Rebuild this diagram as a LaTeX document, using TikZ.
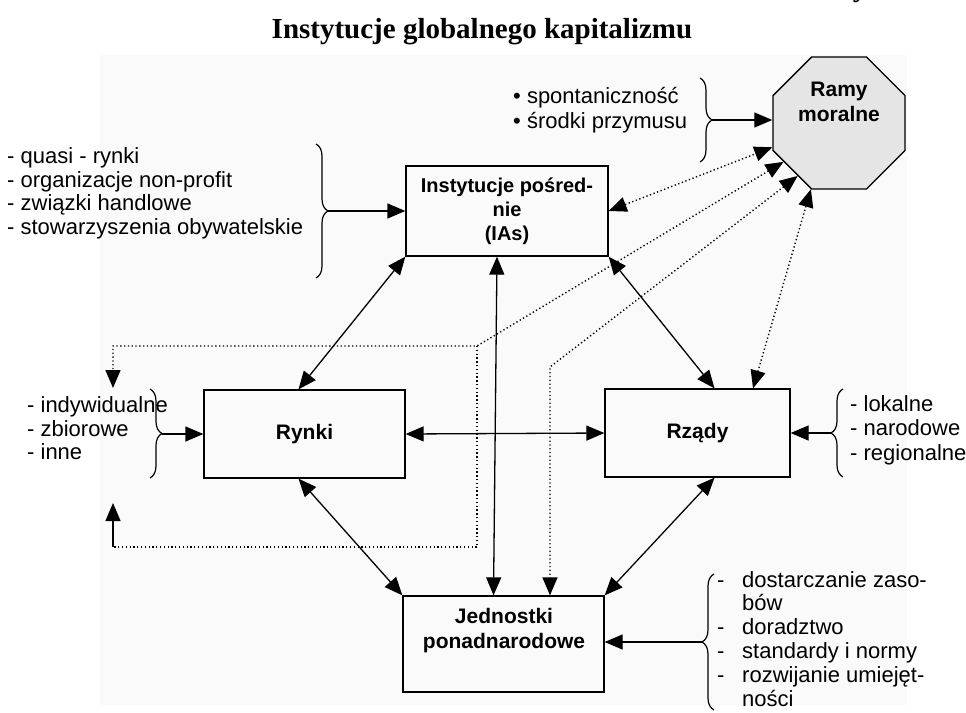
\documentclass[tikz,border=0pt]{standalone}
\usepackage{fontspec}
\setmainfont{Liberation Sans}
\newfontfamily\titlefont{Liberation Serif}
\usetikzlibrary{arrows.meta,decorations.pathreplacing,shapes.geometric}
\tikzset{
  box/.style={draw,line width=1.3pt,font=\bfseries\fontsize{20}{24}\selectfont,align=center,inner sep=0pt},
  conn/.style={line width=1.3pt,{Triangle[length=18pt,width=15pt]}-{Triangle[length=18pt,width=15pt]}},
  arr/.style={line width=1.3pt,-{Triangle[length=18pt,width=15pt]}},
  dconn/.style={line width=1.4pt,dash pattern=on 1.3pt off 2.5pt,{Triangle[length=18pt,width=15pt]}-{Triangle[length=18pt,width=15pt]}},
  feed/.style={line width=1.4pt,dash pattern=on 1.3pt off 2.5pt},
  brc/.style={line width=1.2pt,decorate,decoration={brace,amplitude=12pt}},
  txt/.style={anchor=base west,inner sep=0pt,font=\fontsize{22}{24}\selectfont},
  btxt/.style={inner sep=0pt,font=\bfseries\fontsize{21}{25}\selectfont,align=center},
}
\begin{document}
\begin{tikzpicture}[x=1pt,y=-1pt]
\useasboundingbox (0,0) rectangle (966,712);
\fill[black!2] (100,55) rectangle (907,705);
% title
\node[font=\titlefont\bfseries\fontsize{29}{32}\selectfont] (title) at (482,32) {Instytucje globalnego kapitalizmu};
\node[anchor=base,inner sep=0pt,font=\titlefont\bfseries\fontsize{29}{32}\selectfont] (frag) at (860,-4) {y};
% boxes
\node[box,minimum width=202pt,minimum height=90pt] (ias) at (507,211) {Instytucje pośred-\\nie\\(IAs)};
\node[box,font=\bfseries\fontsize{21}{24}\selectfont,minimum width=201pt,minimum height=88pt] (ry) at (304.5,434) {Rynki};
\node[box,font=\bfseries\fontsize{21}{24}\selectfont,minimum width=185pt,minimum height=88pt] (rz) at (697.5,433) {Rządy};
\node[box,minimum width=201pt,minimum height=96pt] (jed) at (503.5,644) {};
\node[btxt] (jedt) at (504,631) {Jednostki\\ponadnarodowe};
% octagon
\node[regular polygon,regular polygon sides=8,minimum size=143pt,inner sep=0pt,draw,line width=1.3pt,fill=black!10] (oct) at (839,123) {};
\node[btxt] (octt) at (839,102) {Ramy\\moralne};
% text lists
\node[txt] (q1) at (7,163) {- quasi - rynki};
\node[txt] (q2) at (7,187) {- organizacje non-profit};
\node[txt] (q3) at (7,210) {- związki handlowe};
\node[txt] (q4) at (7,234) {- stowarzyszenia obywatelskie};
\node[txt] (s1) at (513,103) {• spontaniczność};
\node[txt] (s2) at (513,128) {• środki przymusu};
\node[txt] (r1) at (27,412) {- indywidualne};
\node[txt] (r2) at (27,436) {- zbiorowe};
\node[txt] (r3) at (27,459) {- inne};
\node[txt] (z1) at (850,411) {- lokalne};
\node[txt] (z2) at (850,435) {- narodowe};
\node[txt] (z3) at (850,460) {- regionalne};
\node[txt] (j1) at (717,587) {-};
\node[txt] (j1b) at (742,587) {dostarczanie zaso-};
\node[txt] (j2b) at (742,610) {bów};
\node[txt] (j3) at (717,634) {-};
\node[txt] (j3b) at (742,634) {doradztwo};
\node[txt] (j4) at (717,658) {-};
\node[txt] (j4b) at (742,658) {standardy i normy};
\node[txt] (j5) at (717,682) {-};
\node[txt] (j5b) at (742,682) {rozwijanie umiejęt-};
\node[txt] (j6b) at (742,706) {ności};
% braces
\draw[brc] (316,144) -- (316,278);
\coordinate (b1) at (328,211);
\draw[arr] (b1) -- (ias.west);
\draw[brc] (700,78) -- (700,162);
\coordinate (b2) at (712,120);
\draw[arr] (b2) -- (b2 -| oct.west);
\draw[brc] (150,389) -- (150,478);
\coordinate (b3) at (162,434);
\draw[arr] (b3) -- (ry.west);
\draw[brc] (843,477) -- (843,389);
\coordinate (b4) at (831,433);
\draw[arr] (b4) -- (rz.east);
\draw[brc] (714,710) -- (714,574);
\coordinate (b5) at (702,642);
\draw[arr] (b5) -- (b5 -| jed.east);
% solid connectors
\draw[conn] (ias.south west) -- ([xshift=-6pt]ry.north);
\draw[conn] ([xshift=-10pt]ias.south) -- ([xshift=-10pt]jed.north);
\draw[conn] (ias.south east) -- ([xshift=17pt]rz.north);
\draw[conn] (ry.east) -- (rz.west);
\draw[conn] ([xshift=-6pt]ry.south) -- (jed.north west);
\draw[conn] ([xshift=17pt]rz.south) -- (jed.north east);
% dotted feedback
\draw[dconn] (ias.east) -- (oct.200);
\coordinate (bk) at (477,346);
\coordinate (bl1) at (113,346);
\coordinate (bt) at (113,388);
\coordinate (bk2) at (477,547);
\coordinate (bl2) at (113,547);
\coordinate (bb) at (113,503);
\draw[dconn] (oct.215) -- (bk) -- (bl1) -- (bt);
\draw[feed] (bk) -- (bk2) -- (bl2);
\draw[arr] (bl2) -- (bb);
\coordinate (cc) at (550,367);
\draw[dconn] (oct.232) -- (cc) -- (cc |- jed.north);
\coordinate (dd) at (753,0);
\draw[dconn] (oct.247) -- (dd |- rz.north);
\end{tikzpicture}
\end{document}
